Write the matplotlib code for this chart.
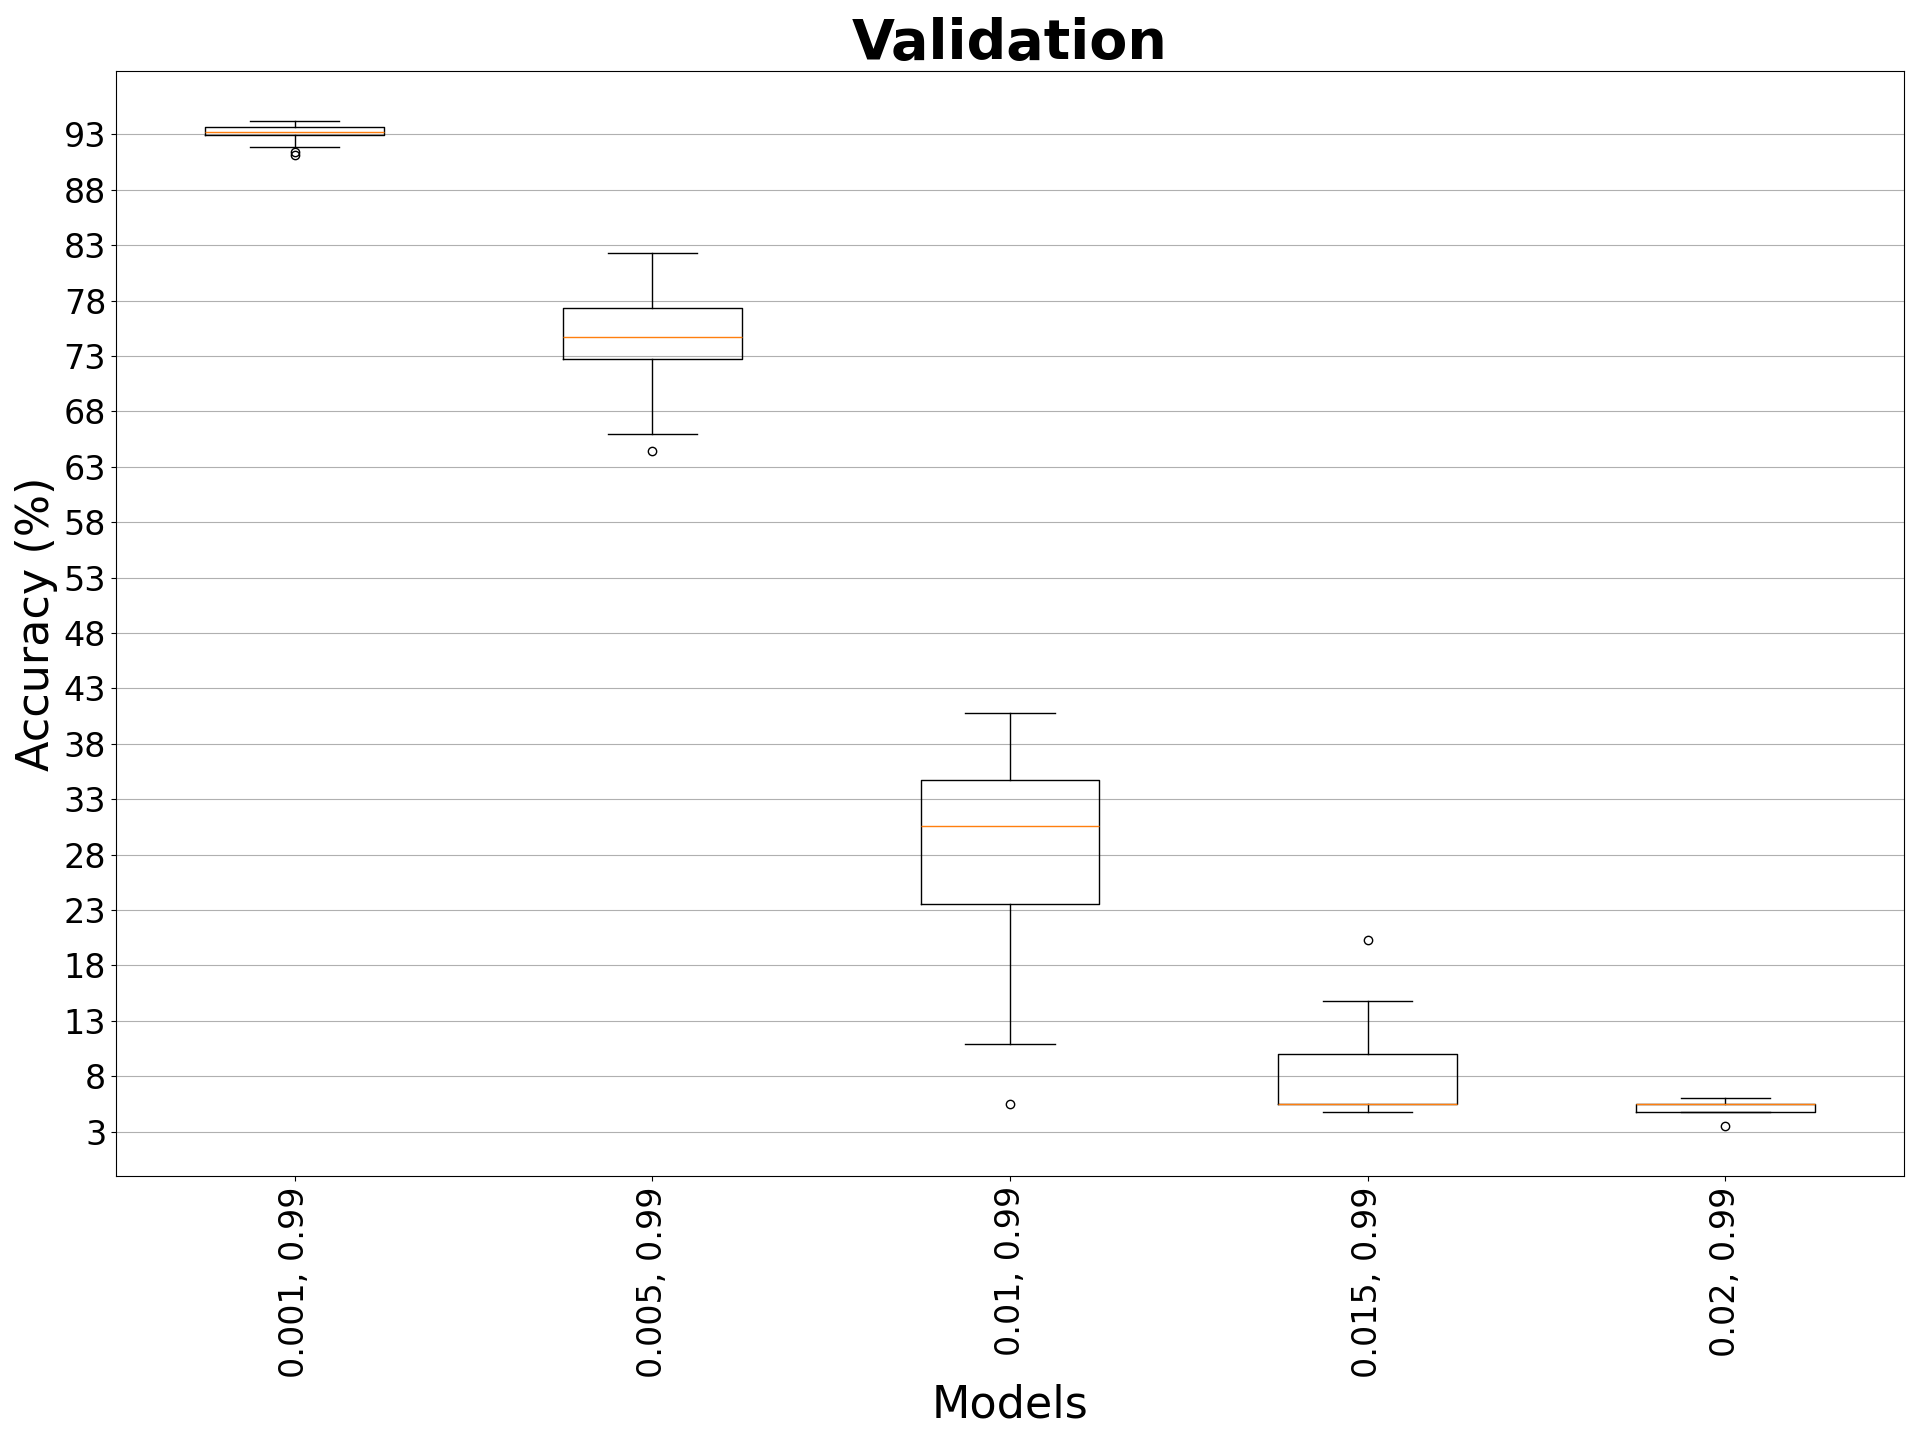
import matplotlib
matplotlib.use("Agg")
import matplotlib.pyplot as plt
import numpy as np

models = ["0.001, 0.99", "0.005, 0.99", "0.01, 0.99", "0.015, 0.99", "0.02, 0.99"]
whislo = [91.89, 65.93, 10.92, 4.75, 4.75]
q1 = [92.91, 72.76, 23.57, 5.47, 4.75]
med = [93.24, 74.76, 30.56, 5.47, 5.47]
q3 = [93.69, 77.37, 34.72, 9.99, 5.47]
whishi = [94.23, 82.30, 40.74, 14.81, 6.01]
fliers = [[91.41, 91.11], [64.47], [5.47], [20.29], [3.48]]
yticks = list(range(3, 94, 5))

stats = []
for i, name in enumerate(models):
    stats.append(dict(label=name, whislo=whislo[i], q1=q1[i], med=med[i],
                      q3=q3[i], whishi=whishi[i], fliers=fliers[i]))

fig = plt.figure(figsize=(19.2, 14.4), dpi=100)
ax = fig.add_subplot(111)
fig.subplots_adjust(left=0.0604, right=0.9917, top=0.951, bottom=0.183)
ax.bxp(stats, showfliers=True)
ax.set_yticks(yticks)
ax.yaxis.grid(True)
ax.set_axisbelow(True)
ax.tick_params(axis='both', labelsize=24)
plt.setp(ax.get_xticklabels(), rotation=90)
ax.set_xlabel("Models", fontsize=32)
ax.set_ylabel("Accuracy (%)", fontsize=32)
ax.set_title("Validation", fontsize=40, fontweight='bold')
fig.savefig("out.png", dpi=100)
